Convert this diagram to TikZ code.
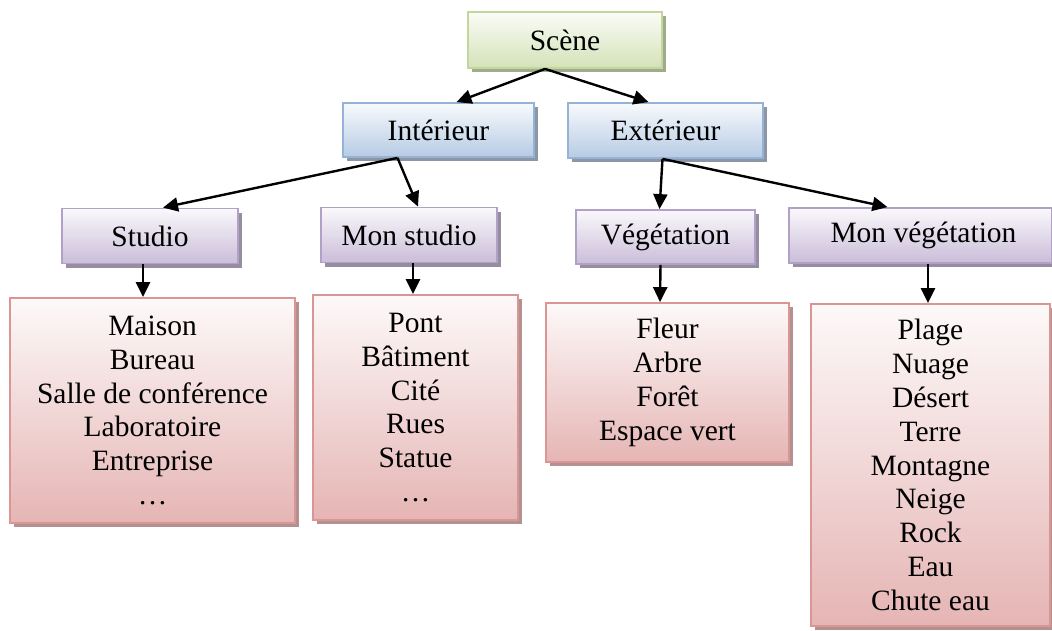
\documentclass[tikz,border=0pt]{standalone}
\usepackage{fontspec}
\setmainfont{Liberation Serif}
\usetikzlibrary{arrows.meta,shadows,calc}

% box colours: border, lower fill, shadow
\definecolor{grnB}{RGB}{196,215,155}
\definecolor{grnF}{RGB}{212,226,184}
\definecolor{grnS}{RGB}{160,170,140}
\definecolor{bluB}{RGB}{149,179,215}
\definecolor{bluF}{RGB}{182,203,228}
\definecolor{bluS}{RGB}{140,150,165}
\definecolor{purB}{RGB}{178,161,199}
\definecolor{purF}{RGB}{202,189,217}
\definecolor{purS}{RGB}{150,142,160}
\definecolor{redB}{RGB}{217,150,148}
\definecolor{redF}{RGB}{229,181,180}
\definecolor{redS}{RGB}{180,145,145}

\begin{document}
\begin{tikzpicture}[x=1pt,y=-1pt,
  box/.style={draw, line width=1.8pt, inner sep=0pt,
    align=center, font=\fontsize{29.5}{33.8}\selectfont},
  rootbox/.style={box, draw=grnB, top color=grnF!10!white, bottom color=grnF,
    drop shadow={shadow xshift=4pt, shadow yshift=-4pt, fill=grnS, opacity=1}},
  catbox/.style={box, draw=bluB, top color=bluF!10!white, bottom color=bluF,
    drop shadow={shadow xshift=4pt, shadow yshift=-4pt, fill=bluS, opacity=1}},
  subbox/.style={box, draw=purB, top color=purF!10!white, bottom color=purF,
    drop shadow={shadow xshift=4pt, shadow yshift=-4pt, fill=purS, opacity=1}},
  listbox/.style={box, draw=redB, top color=redF!8!white, bottom color=redF,
    drop shadow={shadow xshift=4pt, shadow yshift=-4pt, fill=redS, opacity=1}},
  link/.style={line width=2.4pt, -{Triangle[length=15pt,width=14pt]}}]

\useasboundingbox (0,0) rectangle (1052,630);

% first level
\node[rootbox, minimum width=194pt, minimum height=56pt] (scene) at (565,40) {Scène};

% second level
\node[catbox, minimum width=191pt, minimum height=54pt] (int) at (438.5,130) {Intérieur};
\node[catbox, minimum width=195pt, minimum height=55pt] (ext) at (665.5,130.5) {Extérieur};

% third level
\node[subbox, minimum width=176pt, minimum height=55pt] (stu) at (150,236) {Studio};
\node[subbox, minimum width=176pt, minimum height=55pt] (mstu) at (409,235) {Mon studio};
\node[subbox, minimum width=179pt, minimum height=54pt] (veg) at (665.5,237) {Végétation};
\node[subbox, minimum width=263pt, minimum height=55pt] (mveg) at (920.5,235.5) {\hspace*{6pt}Mon végétation};

% lists
\node[listbox, minimum width=285pt, minimum height=225pt] (stuL) at (152.5,410.5)
  {Maison\\Bureau\\Salle de conférence\\Laboratoire\\Entreprise\\…};
\node[listbox, minimum width=205pt, minimum height=225pt] (mstuL) at (415.5,407.5)
  {Pont\\Bâtiment\\Cité\\Rues\\Statue\\…};
\node[listbox, minimum width=243pt, minimum height=159pt] (vegL) at (667.5,382.5)
  {Fleur\\Arbre\\Forêt\\Espace vert};
\node[listbox, minimum width=239pt, minimum height=322pt] (mvegL) at (930.5,465)
  {Plage\\Nuage\\Désert\\Terre\\Montagne\\Neige\\Rock\\Eau\\Chute eau};

% branching points under the parents
\coordinate (jS) at ($(scene.south)+(-20,0)$);
\coordinate (jI) at ($(int.south)+(-41,0)$);
\coordinate (jE) at ($(ext.south)+(-3,0)$);

\draw[link] (jS) -- ($(int.north)+(18,0)$);
\draw[link] (jS) -- ($(ext.north)+(-17,0)$);
\draw[link] (jI) -- ($(stu.north)+(13,0)$);
\draw[link] (jI) -- ($(mstu.north)+(9,0)$);
\draw[link] (jE) -- ($(veg.north)+(-6,0)$);
\draw[link] (jE) -- ($(mveg.north)+(-33,0)$);

\draw[link] ($(stu.south)+(-7,0)$) -- ($(stuL.north)+(-9.5,0)$);
\draw[link] ($(mstu.south)+(4,0)$) -- ($(mstuL.north)+(-2.5,0)$);
\draw[link] ($(veg.south)+(-5,0)$) -- ($(vegL.north)+(-7.5,0)$);
\draw[link] ($(mveg.south)+(7.5,0)$) -- ($(mvegL.north)+(-2.5,0)$);
\end{tikzpicture}
\end{document}
